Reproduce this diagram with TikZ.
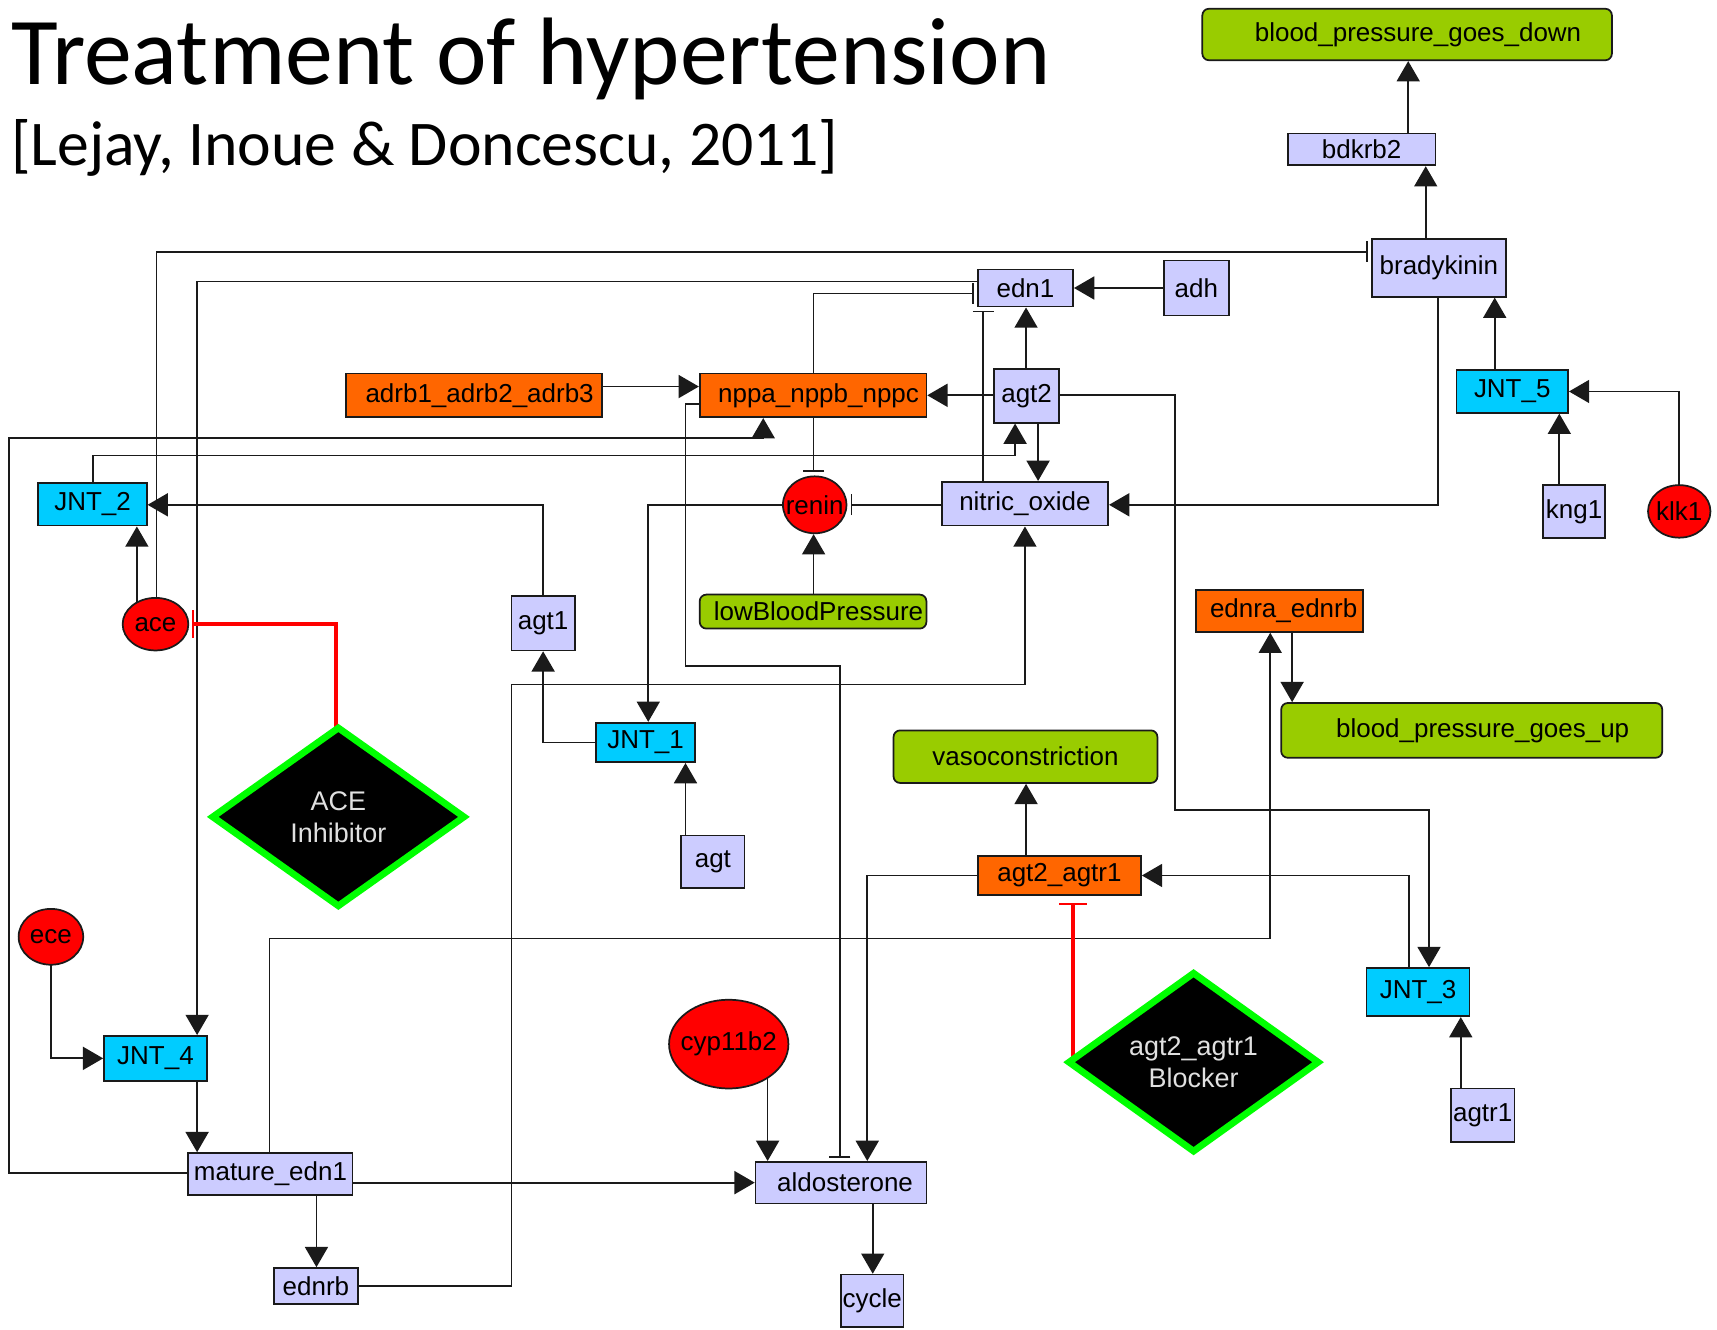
\documentclass[tikz,border=0pt]{standalone}
\usepackage{fontspec}
\setmainfont{Liberation Sans}
\newfontfamily\titlefont{Carlito}
\usetikzlibrary{arrows.meta,shapes.geometric}
\pgfdeclarelayer{bg}
\pgfsetlayers{bg,main}
\definecolor{lav}{HTML}{CCCCFF}
\definecolor{jnt}{HTML}{00CCFF}
\definecolor{org}{HTML}{FF6600}
\definecolor{grn}{HTML}{99CC00}
\definecolor{rd}{HTML}{FF0000}
\definecolor{dgreen}{HTML}{00FF00}
\definecolor{edgec}{HTML}{1A1A1A}
\begin{document}
\begin{tikzpicture}[x=0.02cm,y=-0.02cm,
  base/.style={draw=edgec, line width=0.9pt, inner sep=0pt, font=\fontsize{13.5}{16}\selectfont, text=black},
  sz/.style 2 args={minimum width={#1*0.02cm}, minimum height={#2*0.02cm}},
  lavbox/.style={base, rectangle, fill=lav},
  jntbox/.style={base, rectangle, fill=jnt},
  orgbox/.style={base, rectangle, fill=org},
  grnbox/.style={base, rectangle, rounded corners=0.12cm, fill=grn},
  ell/.style={base, ellipse, fill=rd},
  drug/.style={diamond, draw=dgreen, fill=black, line width=3.5pt, inner sep=0pt, text=white!88!black, align=center, font=\fontsize{14}{16.5}\selectfont},
  act/.style={draw=edgec, line width=0.9pt, -{Triangle[length=0.37cm,width=0.42cm]}},
  inh/.style={draw=edgec, line width=0.9pt, -{Bar[width=0.38cm]}, shorten >=0.06cm},
  rinh/.style={draw=rd, line width=2.4pt, -{Bar[width=0.5cm,line width=0.9pt]}, shorten >=0.06cm},
]
\useasboundingbox (0,0) rectangle (1568,1214);
% titles
\node[anchor=base west, inner sep=0pt, font=\titlefont\fontsize{49.8}{56}\selectfont] (title) at (10,77) {Treatment of hypertension};
\node[anchor=base west, inner sep=0pt, font=\titlefont\fontsize{33.1}{38}\selectfont] (subtitle) at (10,151) {[Lejay, Inoue \& Doncescu, 2011]};
% nodes
\node[grnbox, sz={374}{47}] (bpgd) at (1285,31.5) {\hspace*{0.4cm}blood\_pressure\_goes\_down};
\node[lavbox, sz={135}{29}] (bdkrb2) at (1243.5,136.5) {bdkrb2};
\node[lavbox, sz={122}{53}] (bradykinin) at (1314,244.5) {bradykinin};
\node[lavbox, sz={87}{34}] (edn1) at (936.5,263) {edn1};
\node[lavbox, sz={59}{50}] (adh) at (1092.5,263) {adh};
\node[jntbox, sz={102}{39}] (jnt5) at (1381,357.5) {JNT\_5};
\node[orgbox, sz={234}{40}] (adrb) at (433,361) {\hspace*{0.2cm}adrb1\_adrb2\_adrb3};
\node[orgbox, sz={207}{40}] (nppa) at (742.5,361) {\hspace*{0.2cm}nppa\_nppb\_nppc};
\node[lavbox, sz={59}{49}] (agt2) at (937.5,361.5) {agt2};
\node[jntbox, sz={99}{39}] (jnt2) at (84.5,460.5) {JNT\_2};
\node[ell, sz={58}{52}] (renin) at (744,461) {\makebox[0pt]{renin}};
\node[lavbox, sz={152}{40}] (nitric) at (936,460) {nitric\_oxide};
\node[lavbox, sz={57}{48}] (kng1) at (1437.5,467) {kng1};
\node[ell, sz={57}{48}] (klk1) at (1533.5,467) {\makebox[0pt]{klk1}};
\node[ell, sz={60}{48}] (ace) at (142,570) {\makebox[0pt]{ace}};
\node[lavbox, sz={58}{50}] (agt1) at (496,569) {agt1};
\node[grnbox, sz={207}{31}] (lowbp) at (742.5,558.5) {\hspace*{0.2cm}lowBloodPressure};
\node[orgbox, sz={153}{38}] (ednra) at (1168.5,558) {\hspace*{0.15cm}ednra\_ednrb};
\node[grnbox, sz={348}{50}] (bpgu) at (1344,667) {\hspace*{0.4cm}blood\_pressure\_goes\_up};
\node[jntbox, sz={91}{36}] (jnt1) at (589.5,678) {JNT\_1};
\node[drug, sz={232}{165}] (aceinh) at (309,746) {ACE\\Inhibitor};
\node[grnbox, sz={241}{48}] (vaso) at (936.5,691) {vasoconstriction};
\node[lavbox, sz={58}{48}] (agt) at (651,787) {agt};
\node[orgbox, sz={149}{35}] (agtagtr) at (967.5,799.5) {agt2\_agtr1};
\node[ell, sz={59}{51}] (ece) at (46.5,855.5) {\makebox[0pt]{ece}};
\node[jntbox, sz={94}{44}] (jnt3) at (1295,906) {JNT\_3};
\node[drug, sz={230}{165}] (blocker) at (1090,970) {agt2\_agtr1\\Blocker};
\node[ell, sz={109}{81}] (cyp) at (665.5,953.5) {\makebox[0pt]{cyp11b2}};
\node[jntbox, sz={94}{41}] (jnt4) at (142,966.5) {JNT\_4};
\node[lavbox, sz={58}{49}] (agtr1) at (1354,1018.5) {agtr1};
\node[lavbox, sz={150}{38}] (mature) at (247,1072) {mature\_edn1};
\node[lavbox, sz={156}{38}] (aldo) at (768,1080) {\hspace*{0.15cm}aldosterone};
\node[lavbox, sz={77}{33}] (ednrb) at (288.5,1174.5) {ednrb};
\node[lavbox, sz={57}{48}] (cycle) at (796.5,1188) {cycle};
% connectors
\begin{pgfonlayer}{bg}
\fill[white] (0,0) rectangle (1568,1214);
\draw[act] (bdkrb2.center -| 1286,0) -- (bpgd.south -| 1286,0);
\draw[act] (bradykinin.center -| 1302,0) -- (bdkrb2.south -| 1302,0);
\draw[inh] (ace.center -| 143,0) |- (bradykinin.west |- 0,230);
\draw[act] (edn1.center |- 0,257) -| (jnt4.north -| 180,0);
\draw[inh] (nppa.center -| 743,0) |- (edn1.west |- 0,268);
\draw[inh] (nitric.center -| 898,0) -- (edn1.south -| 898,0);
\draw[act] (adh.center) -- (edn1.east);
\draw[act] (agt2.center -| 937,0) -- (edn1.south -| 937,0);
\draw[act] (adrb.center |- 0,353) -- (nppa.west |- 0,353);
\draw[act] (agt2.center |- 0,361) -- (nppa.east |- 0,361);
\draw[act] (agt2.center |- 0,361) -| (1073,740) -| (jnt3.north -| 1305,0);
\draw[inh] (nppa.center |- 0,369) -| (626,608) -| (aldo.north -| 767,0);
\draw[act] (mature.center |- 0,1071) -| (8,400) -| (nppa.south -| 697,0);
\draw[act] (jnt2.center -| 85,0) |- (927,416) -- (agt2.south -| 927,0);
\draw[act] (agt2.center -| 948,0) -- (nitric.north -| 948,0);
\draw[inh] (nppa.center -| 743,0) -- (renin.north -| 743,0);
\draw[inh] (nitric.center |- 0,461) -- (renin.east |- 0,461);
\draw[act] (renin.center) -| (jnt1.north -| 592,0);
\draw[act] (bradykinin.center -| 1313,0) |- (nitric.east |- 0,461);
\draw[act] (jnt5.center -| 1365,0) -- (bradykinin.south -| 1365,0);
\draw[act] (kng1.center -| 1424,0) -- (jnt5.south -| 1424,0);
\draw[act] (klk1.center) |- (jnt5.east);
\draw[act] (lowbp.center -| 743,0) -- (renin.south -| 743,0);
\draw[act] (ace.center -| 125,0) -- (jnt2.south -| 125,0);
\draw[act] (agt1.center) |- (jnt2.east |- 0,461);
\draw[act] (jnt1.center) -| (agt1.south);
\draw[rinh] (aceinh.center -| 307,0) |- (ace.east);
\draw[act] (ednrb.center) -| (467,625) -| (nitric.south);
\draw[act] (mature.center -| 246,0) |- (1160,857) -- (ednra.south -| 1160,0);
\draw[act] (ednra.center -| 1180,0) -- (bpgu.north -| 1180,0);
\draw[act] (agt.center -| 626,0) -- (jnt1.south -| 626,0);
\draw[act] (agtagtr.center -| 937,0) -- (vaso.south -| 937,0);
\draw[act] (agtagtr.center) -| (aldo.north -| 792,0);
\draw[act] (jnt3.center -| 1287,0) |- (agtagtr.east);
\draw[rinh, shorten >=0.14cm] (blocker.west -| 980,0) -- (agtagtr.south -| 980,0);
\draw[act] (agtr1.center -| 1334,0) -- (jnt3.south -| 1334,0);
\draw[act] (ece.center) |- (jnt4.west);
\draw[act] (jnt4.center -| 180,0) -- (mature.north -| 180,0);
\draw[act] (mature.center |- 0,1080) -- (aldo.west |- 0,1080);
\draw[act] (mature.center -| 289,0) -- (ednrb.north -| 289,0);
\draw[act] (cyp.center -| 701,0) -- (aldo.north -| 701,0);
\draw[act] (aldo.center -| 797,0) -- (cycle.north -| 797,0);
\end{pgfonlayer}
\end{tikzpicture}
\end{document}
